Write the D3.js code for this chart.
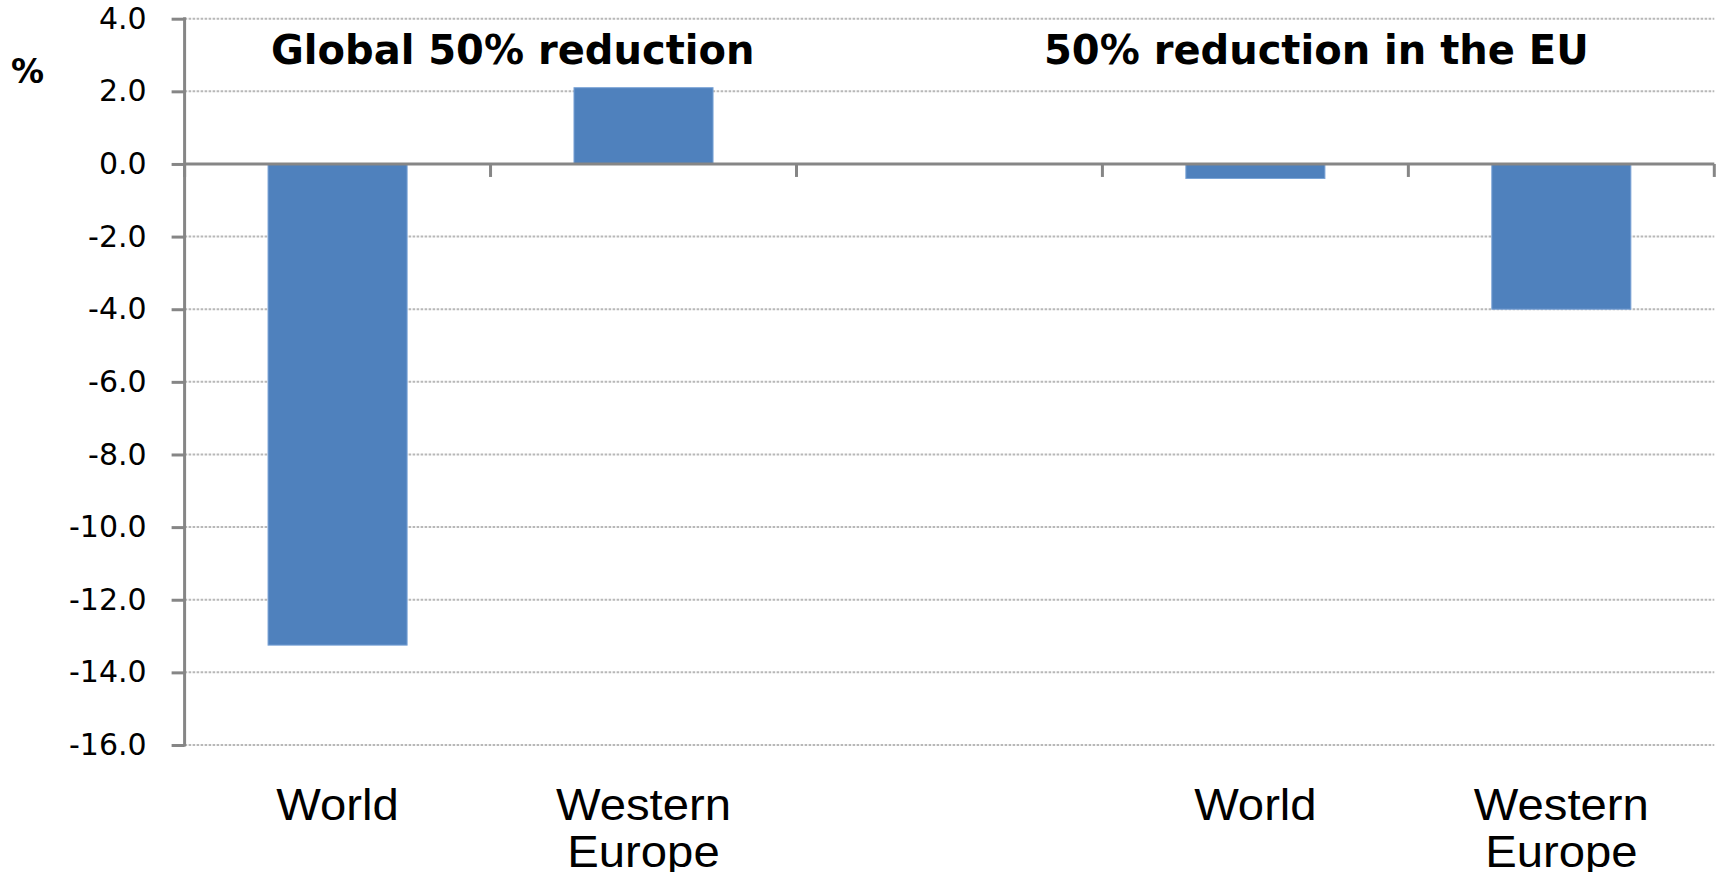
<!DOCTYPE html>
<html>
<head>
<meta charset="utf-8">
<script src="https://cdn.jsdelivr.net/npm/d3@7"></script>
<style>
  html, body { margin: 0; padding: 0; background: #fff; }
  svg { display: block; }
</style>
</head>
<body>
<svg id="chart" width="1723" height="872"></svg>
<script>
// Change (%) under two reduction scenarios, by region
const scenarios = ["Global 50% reduction", "50% reduction in the EU"];
const slotLabels = [["World"], ["Western", "Europe"], [], ["World"], ["Western", "Europe"]];
const slotValues = [-13.25, 2.1, null, -0.4, -4.0];
const yTicks = [4, 2, 0, -2, -4, -6, -8, -10, -12, -14, -16];
const yUnit = "%";

const W = 1723, H = 872;
const margin = { left: 184.6, right: 8.7, top: 18.7, bottom: 127 };
const plotL = margin.left, plotR = W - margin.right;
const plotT = margin.top, plotB = H - margin.bottom;

const axisColor = "#868686";
const gridColor = "#b8b8b8";
const barColor = "#4f81bd";

const svg = d3.select("#chart");

const x = d3.scaleBand()
  .domain(d3.range(slotValues.length))
  .range([plotL, plotR])
  .paddingInner(0).paddingOuter(0);

const y = d3.scaleLinear()
  .domain([d3.min(yTicks), d3.max(yTicks)])
  .range([plotB, plotT]);

// dotted horizontal gridlines
svg.append("g")
  .selectAll("line")
  .data(yTicks.filter(d => d !== 0))
  .join("line")
  .attr("x1", plotL).attr("x2", plotR)
  .attr("y1", d => y(d)).attr("y2", d => y(d))
  .attr("stroke", gridColor)
  .attr("stroke-width", 2)
  .attr("stroke-dasharray", "2.6,1.4");

// bars (gap width 120% → bar = band / 2.2)
const barW = x.bandwidth() / 2.2;
svg.append("g")
  .selectAll("rect")
  .data(slotValues.map((v, i) => ({ v, i })).filter(d => d.v !== null))
  .join("rect")
  .attr("x", d => x(d.i) + (x.bandwidth() - barW) / 2)
  .attr("width", barW)
  .attr("y", d => y(Math.max(0, d.v)))
  .attr("height", d => Math.abs(y(d.v) - y(0)))
  .attr("fill", barColor)
  .attr("stroke", "#7aa3d6")
  .attr("stroke-width", 1);

// y axis
const yAxis = d3.axisLeft(y)
  .tickValues(yTicks)
  .tickFormat(d => d.toFixed(1))
  .tickSize(13)
  .tickPadding(25);

const gy = svg.append("g")
  .attr("transform", `translate(${plotL},0)`)
  .call(yAxis);
gy.select(".domain").remove();
gy.selectAll(".tick line").attr("stroke", axisColor).attr("stroke-width", 3);
gy.selectAll(".tick text")
  .attr("fill", "#000")
  .style("font-family", "'DejaVu Sans', Verdana, sans-serif")
  .style("font-size", "30px");
gy.append("line")
  .attr("x1", 0).attr("x2", 0)
  .attr("y1", y(d3.max(yTicks)) - 1.5).attr("y2", y(d3.min(yTicks)) + 1.5)
  .attr("stroke", axisColor).attr("stroke-width", 3);

// category axis along zero, ticks at slot boundaries
const gx = svg.append("g");
gx.append("line")
  .attr("x1", plotL).attr("x2", plotR)
  .attr("y1", y(0)).attr("y2", y(0))
  .attr("stroke", axisColor).attr("stroke-width", 3);
const bounds = d3.range(slotValues.length + 1)
  .map(i => i < slotValues.length ? x(i) : x.range()[1]);
gx.selectAll("line.bt")
  .data(bounds)
  .join("line")
  .attr("class", "bt")
  .attr("x1", d => d).attr("x2", d => d)
  .attr("y1", y(0)).attr("y2", y(0) + 13)
  .attr("stroke", axisColor).attr("stroke-width", 3);

// category labels beneath the plot (slightly widened glyphs)
const labels = svg.append("g")
  .style("font-family", "'Liberation Sans', Arial, sans-serif")
  .style("font-size", "45px")
  .attr("fill", "#000")
  .attr("text-anchor", "middle");
slotLabels.forEach((lines, i) => {
  const cx = x(i) + x.bandwidth() / 2;
  const t = labels.append("text")
    .attr("transform", `translate(${cx},${plotB + 75}) scale(1.05,1)`);
  lines.forEach((s, k) => {
    t.append("tspan")
      .attr("x", 0)
      .attr("dy", k === 0 ? 0 : 47)
      .text(s);
  });
});

// scenario headings
const heads = svg.append("g")
  .style("font-family", "'DejaVu Sans', Verdana, sans-serif")
  .style("font-weight", "bold")
  .style("font-size", "40px")
  .attr("fill", "#000");
heads.append("text").attr("x", 271).attr("y", 63.5).text(scenarios[0]);
heads.append("text").attr("x", 1044).attr("y", 63.5).text(scenarios[1]);

// unit label
svg.append("text")
  .attr("x", 27.5).attr("y", 83)
  .attr("text-anchor", "middle")
  .style("font-family", "'DejaVu Sans', Verdana, sans-serif")
  .style("font-weight", "bold")
  .style("font-size", "33px")
  .text(yUnit);
</script>
</body>
</html>
